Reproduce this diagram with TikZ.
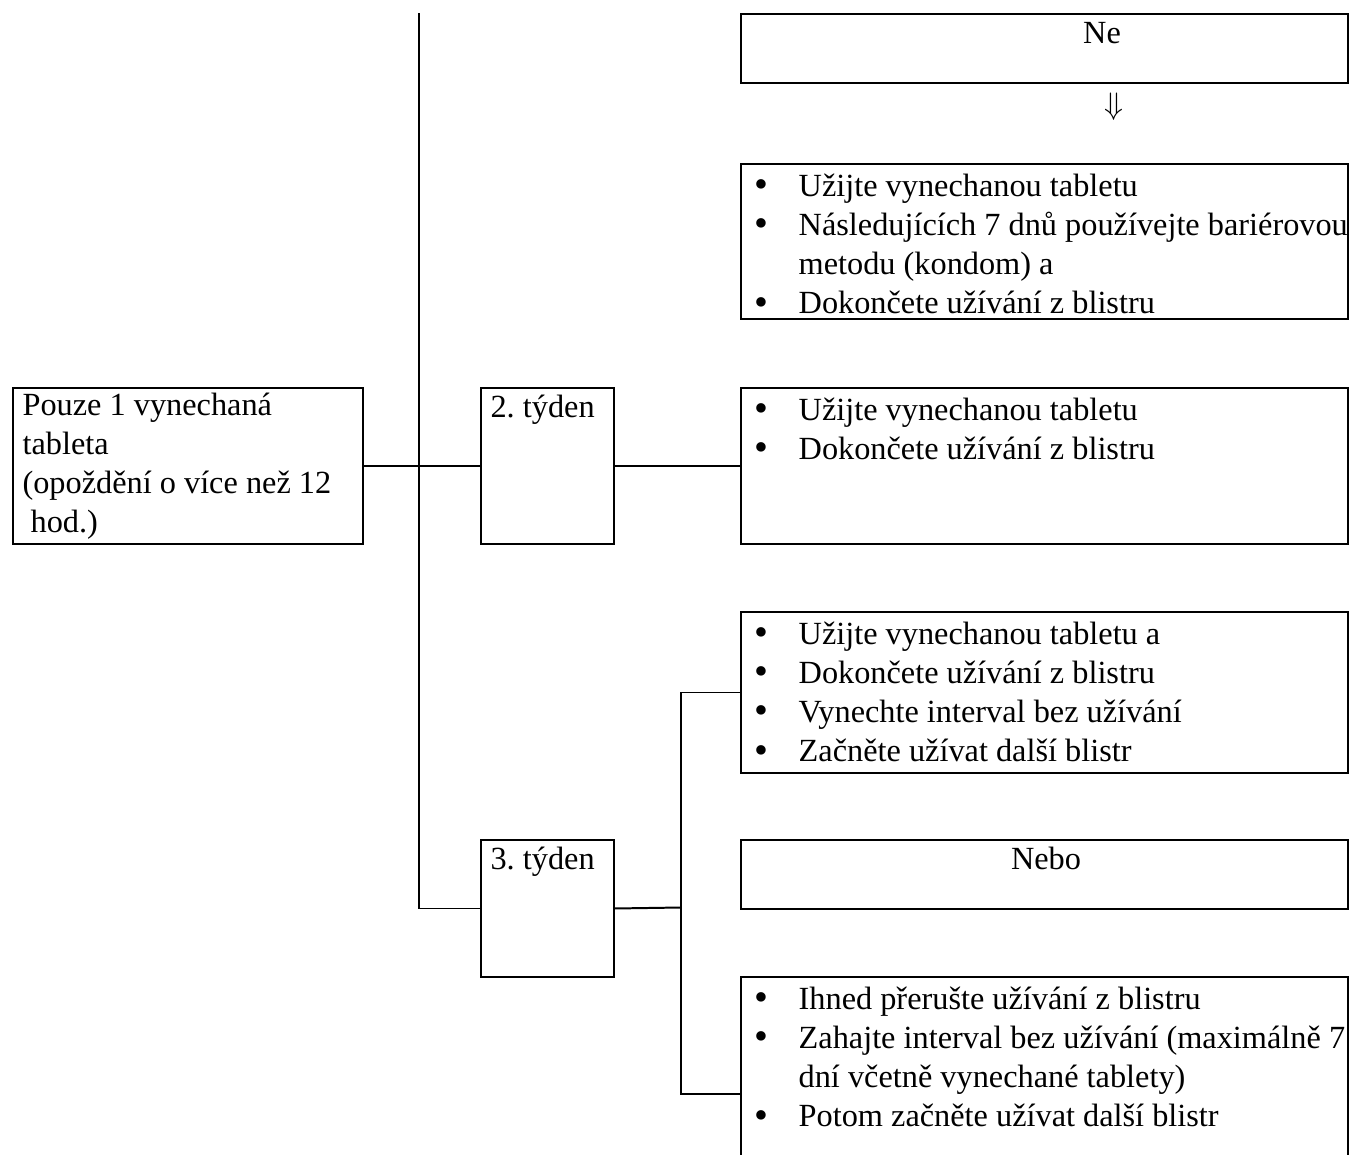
\documentclass[tikz,border=0pt]{standalone}
\usepackage{fontspec}
\setmainfont{Liberation Serif}
\usetikzlibrary{positioning}
\tikzstyle{stepBox}=[draw, line width=0.7pt, rectangle, inner sep=0pt, anchor=north west]
\tikzstyle{boxText}=[inner sep=0pt, anchor=base west, align=left]
\tikzstyle{listText}=[inner sep=0pt, anchor=north west, align=left]
\tikzstyle{centerText}=[inner sep=0pt, anchor=base]
\tikzstyle{branchLine}=[line width=0.7pt]

\newcommand{\bulletLine}[1]{\makebox[20.5pt][l]{\hspace{4.8pt}\raisebox{-0.4pt}{\fontsize{14}{14}\selectfont\textbullet}}#1}
\newcommand{\nextLine}[1]{\hspace*{20.5pt}#1}

\begin{document}
\frenchspacing
\fontsize{11.4}{13.8}\selectfont
\begin{tikzpicture}[x=0.3528pt, y=-0.3528pt]
	\useasboundingbox (0,0) rectangle (1350,1155);
	\clip (0,0) rectangle (1350,1155);

	\node[stepBox, minimum width=123.48pt, minimum height=55.04pt] (main) at (12,387) {};
	\node[stepBox, minimum width=46.92pt, minimum height=55.04pt] (w2) at (480,387) {};
	\node[stepBox, minimum width=46.92pt, minimum height=48.33pt] (w3) at (480,839) {};

	\node[stepBox, minimum width=214.15pt, minimum height=24.34pt] (ne) at (740,13) {};
	\node[stepBox, minimum width=214.15pt, minimum height=54.68pt] (optA) at (740,163) {};
	\node[stepBox, minimum width=214.15pt, minimum height=55.04pt] (optB) at (740,387) {};
	\node[stepBox, minimum width=214.15pt, minimum height=56.80pt] (optC) at (740,611) {};
	\node[stepBox, minimum width=214.15pt, minimum height=24.34pt] (nebo) at (740,839) {};
	\node[stepBox, minimum width=214.15pt, minimum height=82.56pt] (optD) at (740,976) {};

	\coordinate (spineTop) at (419,13);
	\coordinate (split) at (681,907.5);

	\draw[branchLine] (spineTop) |- (w3.west);
	\draw[branchLine] (main.east) -- (w2.west);
	\draw[branchLine] (w2.east) -- (optB.west);
	\draw[branchLine] (w3.east) -- (split);
	\draw[branchLine] (optC.west) -| (split) |- (optD.west);

	\node[listText] (mainText) at (22,387.6) {\strut Pouze 1 vynechaná\\tableta\\(opoždění o více než 12\\\ hod.)};
	\node[boxText] (w2Text) at (490,417) {2. týden};
	\node[boxText] (w3Text) at (490,869) {3. týden};

	\node[centerText] (neText) at (1102,44) {Ne};
	\node (neArrow) at (1114,107) {$\Downarrow$};
	\node[centerText] (neboText) at (1046,869) {Nebo};

	\node[listText] (aText) at (740,168.6) {\strut\bulletLine{Užijte vynechanou tabletu}\\
		\bulletLine{Následujících 7 dnů používejte bariérovou}\\
		\nextLine{metodu (kondom) a}\\
		\bulletLine{Dokončete užívání z blistru}};
	\node[listText] (bText) at (740,392.6) {\strut\bulletLine{Užijte vynechanou tabletu}\\
		\bulletLine{Dokončete užívání z blistru}};
	\node[listText] (cText) at (740,616.6) {\strut\bulletLine{Užijte vynechanou tabletu a}\\
		\bulletLine{Dokončete užívání z blistru}\\
		\bulletLine{Vynechte interval bez užívání}\\
		\bulletLine{Začněte užívat další blistr}};
	\node[listText] (dText) at (740,981.6) {\strut\bulletLine{Ihned přerušte užívání z blistru}\\
		\bulletLine{Zahajte interval bez užívání (maximálně 7}\\
		\nextLine{dní včetně vynechané tablety)}\\
		\bulletLine{Potom začněte užívat další blistr}};
\end{tikzpicture}
\end{document}
